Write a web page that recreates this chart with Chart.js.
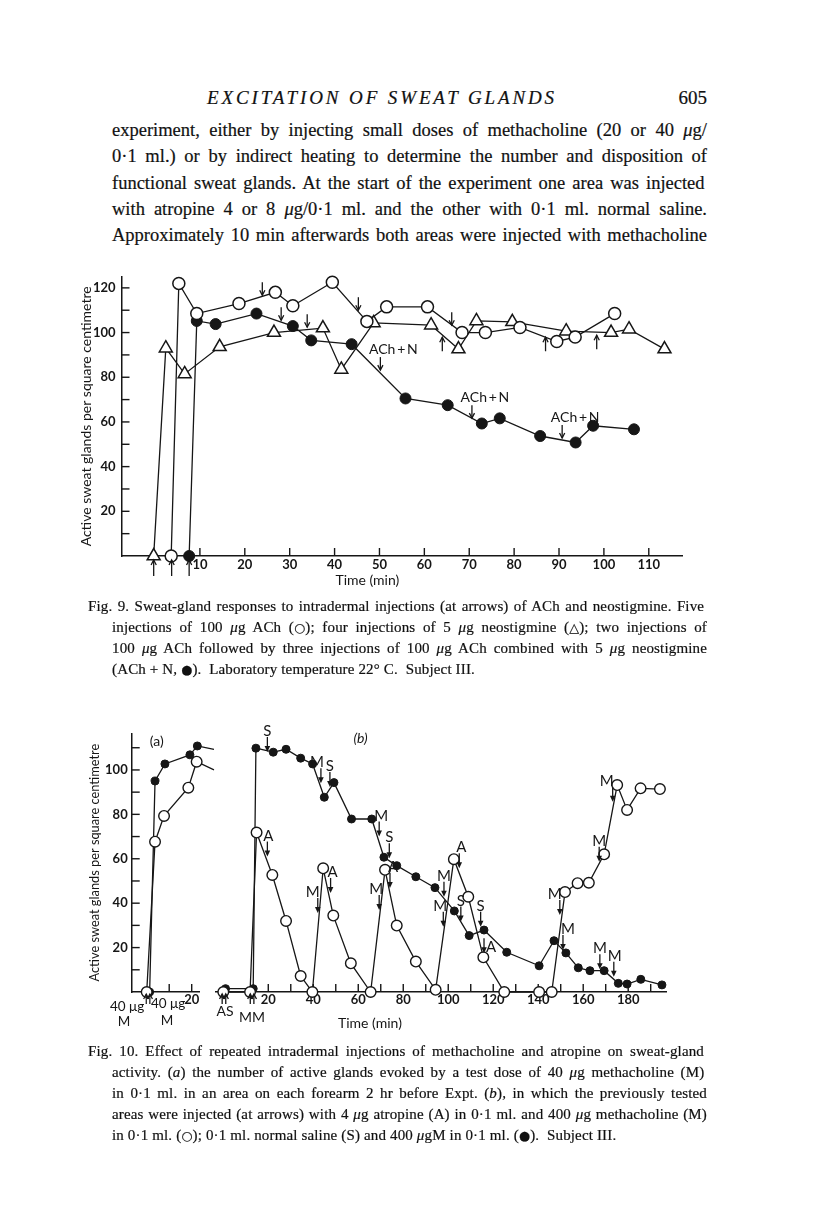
<!DOCTYPE html>
<html><head><meta charset="utf-8">
<script src="https://cdn.jsdelivr.net/npm/chart.js@4.4.1/dist/chart.umd.min.js"></script>
<style>
html,body{margin:0;padding:0;background:#fff;}
body{width:816px;height:1205px;position:relative;overflow:hidden;font-family:"Liberation Serif","DejaVu Serif",serif;color:#111;}
.ln{position:absolute;white-space:nowrap;-webkit-text-stroke:0.2px #111;}
.b{font-size:18.5px;line-height:21px;letter-spacing:0px;}
.c{font-size:15px;line-height:17px;letter-spacing:0.15px;}
.sym{font-family:"DejaVu Sans",sans-serif;font-size:0.85em;}
canvas{position:absolute;}
</style></head>
<body>
<div class="ln fit" data-w="350" data-mode="ls" style="left:207px;top:88px;font-size:19px;line-height:20px;font-style:italic;">EXCITATION OF SWEAT GLANDS</div>
<div class="ln" style="right:109px;top:88px;font-size:19px;line-height:20px;">605</div>

<div class="ln b fit" data-w="595" style="left:112px;top:120px;">experiment, either by injecting small doses of methacholine (20 or 40 <i>μ</i>g/</div>
<div class="ln b fit" data-w="595" style="left:112px;top:146px;">0·1 ml.) or by indirect heating to determine the number and disposition of</div>
<div class="ln b fit" data-w="595" style="left:112px;top:172.5px;">functional sweat glands.  At the start of the experiment one area was injected</div>
<div class="ln b fit" data-w="595" style="left:112px;top:199px;">with atropine 4 or 8 <i>μ</i>g/0·1 ml. and the other with 0·1 ml. normal saline.</div>
<div class="ln b fit" data-w="595" style="left:112px;top:225px;">Approximately 10 min afterwards both areas were injected with methacholine</div>

<canvas id="fig9" width="816" height="340" style="left:0;top:260px;"></canvas>

<div class="ln c fit" data-w="619" style="left:88px;top:598px;">Fig. 9.  Sweat-gland responses to intradermal injections (at arrows) of ACh and neostigmine.  Five</div>
<div class="ln c fit" data-w="595" style="left:112px;top:619px;">injections of 100 <i>μ</i>g ACh (<span class="sym">○</span>); four injections of 5 <i>μ</i>g neostigmine (<span class="sym">△</span>); two injections of</div>
<div class="ln c fit" data-w="595" style="left:112px;top:640px;">100 <i>μ</i>g ACh followed by three injections of 100 <i>μ</i>g ACh combined with 5 <i>μ</i>g neostigmine</div>
<div class="ln c" style="left:112px;top:661px;">(ACh + N, <span class="sym">●</span>).&nbsp; Laboratory temperature 22° C.&nbsp; Subject III.</div>

<canvas id="fig10a" width="240" height="330" style="left:0;top:720px;"></canvas>
<canvas id="fig10b" width="616" height="330" style="left:200px;top:720px;"></canvas>

<div class="ln c fit" data-w="619" style="left:88px;top:1043px;">Fig. 10.  Effect of repeated intradermal injections of methacholine and atropine on sweat-gland</div>
<div class="ln c fit" data-w="595" style="left:112px;top:1064px;">activity.  (<i>a</i>) the number of active glands evoked by a test dose of 40 <i>μ</i>g methacholine (M)</div>
<div class="ln c fit" data-w="595" style="left:112px;top:1085px;">in 0·1 ml. in an area on each forearm 2 hr before Expt. (<i>b</i>), in which the previously tested</div>
<div class="ln c fit" data-w="595" style="left:112px;top:1106px;">areas were injected (at arrows) with 4 <i>μ</i>g atropine (A) in 0·1 ml. and 400 <i>μ</i>g methacholine (M)</div>
<div class="ln c" style="left:112px;top:1127px;">in 0·1 ml. (<span class="sym">○</span>); 0·1 ml. normal saline (S) and 400 <i>μ</i>gM in 0·1 ml. (<span class="sym">●</span>).&nbsp; Subject III.</div>

<script>
// ---------------- DATA ----------------
// Fig. 9
const fig9XTicks = [10, 20, 30, 40, 50, 60, 70, 80, 90, 100, 110];
const fig9XLabels = [10, 20, 30, 40, 50, 60, 70, 80, 90, 100, 110];
const fig9YTicks = [10, 20, 30, 40, 50, 60, 70, 80, 90, 100, 110, 120];
const fig9YLabels = [20, 40, 60, 80, 100, 120];

const fig9AChTime = [3.6, 5.3, 9.3, 18.7, 26.8, 30.7, 39.5, 47.2, 51.6, 60.7, 68.4, 73.6, 81.3, 89.5, 93.6, 102.4];
const fig9AChVal  = [0, 122, 108.5, 113, 118, 112, 122.5, 105, 111.5, 111.5, 100, 100, 102.3, 96, 98, 108.5];

const fig9NeoTime = [-0.3, 2.4, 6.6, 14.4, 26.5, 37.4, 41.5, 48.7, 61.5, 67.6, 71.6, 79.6, 91.6, 101.6, 105.6, 113.5];
const fig9NeoVal  = [0, 93, 81.5, 93.6, 100, 102, 83.5, 104.3, 103.3, 92.6, 105.2, 104.8, 100.6, 100, 101.5, 92.6];

const fig9AChNTime = [7.6, 9.3, 13.5, 22.6, 30.7, 34.8, 43.8, 55.8, 65.2, 72.8, 76.8, 85.8, 93.7, 97.6, 106.7];
const fig9AChNVal  = [0, 105.2, 103.8, 108.5, 102.9, 96.5, 94.8, 70.5, 67.5, 59.3, 61.6, 53.7, 50.8, 58.3, 56.7];

const fig9InjectionTimes = [-0.3, 3.7, 7.6];
const fig9DownArrowTime = [23.9, 28.1, 33.9, 45.3, 66.1];
const fig9DownArrowVal  = [116.7, 105.5, 102.4, 110, 103.3];
const fig9UpArrowTime = [64, 87, 98.4];
const fig9UpArrowVal  = [97.9, 97.9, 98.8];
const fig9AChNArrowTime = [50.2, 70.6, 90.7];
const fig9AChNArrowVal  = [83.2, 61.7, 52.8];

// Fig. 10
const fig10YTicks = [10, 20, 30, 40, 50, 60, 70, 80, 90, 100, 110];
const fig10YLabels = [20, 40, 60, 80, 100];
const fig10aXTicks = [10, 20];
const fig10aXLabels = [20];
const fig10bXTicks = [20, 30, 40, 50, 60, 70, 80, 90, 100, 110, 120, 130, 140, 150, 160, 170, 180, 190];
const fig10bXLabels = [20, 40, 60, 80, 100, 120, 140, 160, 180];

const fig10aOpenTime = [0, 3.7, 7.7, 18.5, 22.2, 29.9];
const fig10aOpenVal  = [0, 67.7, 79.3, 92, 103.7, 100];
const fig10aFilledTime = [1.3, 3.7, 8.1, 19.2, 22.5, 29.9];
const fig10aFilledVal  = [0, 95, 102.7, 106.8, 110.8, 109.3];

const fig10bOpenTime = [0, 11.9, 14.8, 21.8, 27.9, 34.4, 39.6, 44.4, 48.9, 56.7, 65.5, 71.9, 77.1, 85.6, 94.4, 102.5, 108.9, 115.6, 124.9, 140.4, 146, 151.9, 157.5, 162.5, 169.3, 175.1, 179.5, 185.5, 194.1];
const fig10bOpenVal  = [0, 0, 71.8, 52.7, 32, 7.2, 0, 55.7, 34.4, 12.9, 0, 55, 29.9, 13.7, 1, 59.8, 42.9, 15.6, 0, 0, 0, 45, 49, 49.2, 62, 93.2, 82, 91.7, 91.4];
const fig10bFilledTime = [1, 13.3, 14.5, 22.2, 27.9, 34.4, 39.7, 44.9, 49.2, 57, 66, 71.4, 77.1, 85.6, 94.1, 102.7, 109.3, 115.9, 126, 140.4, 147, 152.3, 157.8, 163, 169.3, 175.6, 179.5, 185.6, 195];
const fig10bFilledVal  = [1.5, 1.5, 109.8, 108, 109.3, 105.3, 102.7, 87.7, 94.3, 77.9, 77.9, 60.7, 56.9, 51.9, 47, 36.5, 25.4, 27.9, 17.9, 11.8, 23.1, 17.6, 10.9, 9.6, 9.6, 3.9, 3.6, 5.7, 3.2];

const fig10bMarkText = ['S','M','S','A','M','A','M','S','M','A','M','A','M','S','S','A','M','M','M','M','M','M'];
const fig10bMarkTime = [19.6, 43.4, 47.4, 19.6, 42, 47.7, 69.3, 73.8, 69.3, 74.1, 98.1, 104.9, 97.8, 105.6, 114.4, 115.9, 149.6, 151, 167.1, 173.1, 167.4, 173.6];
const fig10bMarkVal  = [108.1, 94, 92.3, 61, 35.6, 44.6, 70, 60.2, 36.9, 46.8, 42.9, 55.7, 29.4, 31.7, 29.4, 17.4, 34.7, 18.9, 58.7, 85.7, 10.2, 6.9];
const fig10aInjectionTimes = [0.6];
const fig10bInjectionTimes = [0.3, 12.8];

// ---------------- STYLE / LAYOUT ----------------
const INK = '#161616';
Chart.defaults.font.family = 'Lato, "DejaVu Sans", sans-serif';
Chart.defaults.color = INK;
const markDx = [0,-4,0,1,-5,2,2,0,-3,3,0,2,-3,0,0,0,-5,5,0,-6,0,1];

function pts(t, v) { return t.map((x, i) => ({x: x, y: v[i]})); }
function ds(t, v, style, r, fill, bw) {
  return {data: pts(t, v), showLine: true, borderColor: INK, borderWidth: 1.3, tension: 0,
    pointStyle: style, pointRadius: r, pointHoverRadius: r, pointBackgroundColor: fill,
    pointBorderColor: INK, pointBorderWidth: bw, clip: false};
}
function line(ctx, x1, y1, x2, y2) { ctx.beginPath(); ctx.moveTo(x1, y1); ctx.lineTo(x2, y2); ctx.stroke(); }
function arrowOpen(ctx, x, tip, len, dir) {
  const s = dir === 'up' ? 1 : -1;
  line(ctx, x, tip, x, tip + s * len);
  ctx.beginPath(); ctx.moveTo(x - 2.6, tip + s * 5); ctx.lineTo(x, tip); ctx.lineTo(x + 2.6, tip + s * 5); ctx.stroke();
}
function arrowFilled(ctx, x, tip, len) {
  line(ctx, x, tip - len, x, tip - 4);
  ctx.beginPath(); ctx.moveTo(x, tip); ctx.lineTo(x - 2.8, tip - 6); ctx.lineTo(x + 2.8, tip - 6); ctx.closePath(); ctx.fill();
}
function axisScale(min, max, ticks, labels, size, pad, fitProp, fitVal, display) {
  return {type: 'linear', min: min, max: max, display: display,
    grid: {display: false, drawTicks: false},
    border: {display: true, color: INK, width: 1.5},
    ticks: {autoSkip: false, maxRotation: 0, padding: pad, color: INK,
      font: {size: size, weight: 'bold'},
      callback: v => labels.includes(v) ? String(v) : ''},
    afterBuildTicks: s => { s.ticks = ticks.map(v => ({value: v})); },
    afterFit: s => { s[fitProp] = fitVal; }};
}
function tickPlugin(xTicks, yTicks, len) {
  return {id: 'inwardTicks', beforeDatasetsDraw(chart) {
    const ctx = chart.ctx, xs = chart.scales.x, ys = chart.scales.y, a = chart.chartArea;
    ctx.save(); ctx.strokeStyle = INK; ctx.lineWidth = 1.4;
    xTicks.forEach(v => { const x = xs.getPixelForValue(v); line(ctx, x, a.bottom, x, a.bottom - len); });
    yTicks.forEach(v => { const y = ys.getPixelForValue(v); line(ctx, a.left, y, a.left + len, y); });
    ctx.restore();
  }};
}
const baseOpts = {responsive: false, animation: false, devicePixelRatio: 1, events: [],
  plugins: {legend: {display: false}, tooltip: {enabled: false}}};

// ---------------- FIG 9 ----------------
new Chart(document.getElementById('fig9'), {
  type: 'scatter',
  data: {datasets: [
    ds(fig9AChTime, fig9AChVal, 'circle', 6, '#fff', 1.5),
    ds(fig9AChNTime, fig9AChNVal, 'circle', 5.5, INK, 1),
    ds(fig9NeoTime, fig9NeoVal, 'triangle', 7.5, '#fff', 1.5)
  ]},
  options: Object.assign({}, baseOpts, {
    layout: {padding: {top: 16.7, right: 134, bottom: 0, left: 0}},
    scales: {
      x: axisScale(-7.47, 117.4, fig9XTicks, fig9XLabels, 13, 1, 'height', 44, true),
      y: Object.assign(axisScale(0, 125, fig9YTicks, fig9YLabels, 13, 6, 'width', 121.5, true),
        {title: {display: true, text: 'Active sweat glands per square centimetre', color: INK,
          font: {size: 14}, padding: {top: 78, bottom: 0}}})
    }
  }),
  plugins: [tickPlugin(fig9XTicks, fig9YTicks, 8), {id: 'ann9', afterDatasetsDraw(chart) {
    const ctx = chart.ctx, xs = chart.scales.x, ys = chart.scales.y, a = chart.chartArea;
    const X = v => xs.getPixelForValue(v), Y = v => ys.getPixelForValue(v);
    ctx.save(); ctx.strokeStyle = INK; ctx.fillStyle = INK; ctx.lineWidth = 1.3;
    fig9InjectionTimes.forEach(t => arrowOpen(ctx, X(t), a.bottom + 4, 16, 'up'));
    fig9DownArrowTime.forEach((t, i) => arrowOpen(ctx, X(t), Y(fig9DownArrowVal[i]), 13, 'down'));
    fig9UpArrowTime.forEach((t, i) => arrowOpen(ctx, X(t), Y(fig9UpArrowVal[i]), 14, 'up'));
    ctx.font = '14px Lato'; ctx.textAlign = 'center'; ctx.textBaseline = 'alphabetic';
    fig9AChNArrowTime.forEach((t, i) => {
      const tip = Y(fig9AChNArrowVal[i]);
      arrowOpen(ctx, X(t), tip, 13, 'down');
      ctx.fillText('ACh\u2009+\u2009N', X(t) + 13, tip - 16);
    });
    ctx.font = '14px Lato'; ctx.textBaseline = 'middle';
    ctx.fillText('Time (min)', X(47.3), a.bottom + 24);
    ctx.restore();
  }}]
});

// ---------------- FIG 10 (a) ----------------
function belowLabel(ctx, txt, x, y, size) { ctx.font = size + 'px Lato'; ctx.fillText(txt, x, y); }
function doubleArrow(ctx, x, tip) { arrowOpen(ctx, x - 1.8, tip, 10, 'up'); arrowOpen(ctx, x + 1.8, tip, 10, 'up'); }

new Chart(document.getElementById('fig10a'), {
  type: 'scatter',
  data: {datasets: [
    ds(fig10aOpenTime, fig10aOpenVal, 'circle', 5.3, '#fff', 1.4),
    ds(fig10aFilledTime, fig10aFilledVal, 'circle', 4, INK, 1)
  ]},
  options: Object.assign({}, baseOpts, {
    layout: {padding: {top: 13.3, right: 41, bottom: 0, left: 0}},
    scales: {
      x: axisScale(-6.67, 23.24, fig10aXTicks, fig10aXLabels, 13, 0, 'height', 58, true),
      y: Object.assign(axisScale(0, 116.5, fig10YTicks, fig10YLabels, 13, 4, 'width', 131.7, true),
        {title: {display: true, text: 'Active sweat glands per square centimetre', color: INK,
          font: {size: 12.8}, padding: {top: 87, bottom: 0}}})
    }
  }),
  plugins: [tickPlugin(fig10aXTicks, fig10YTicks, 8), {id: 'ann10a', afterDatasetsDraw(chart) {
    const ctx = chart.ctx, xs = chart.scales.x, ys = chart.scales.y, a = chart.chartArea;
    const X = v => xs.getPixelForValue(v), Y = v => ys.getPixelForValue(v);
    ctx.save(); ctx.strokeStyle = INK; ctx.fillStyle = INK; ctx.lineWidth = 1.2;
    fig10aInjectionTimes.forEach(t => doubleArrow(ctx, X(t), a.bottom + 2));
    ctx.textAlign = 'center'; ctx.textBaseline = 'middle';
    belowLabel(ctx, '(a)', X(4.5), Y(113), 14);
    const x0 = X(fig10aInjectionTimes[0]);
    belowLabel(ctx, '40 μg', x0 - 21, a.bottom + 15, 13.5);
    belowLabel(ctx, 'M', x0 - 24, a.bottom + 30, 13.5);
    belowLabel(ctx, '40 μg', x0 + 20, a.bottom + 12, 13.5);
    belowLabel(ctx, 'M', x0 + 19, a.bottom + 29, 13.5);
    ctx.restore();
  }}]
});

// ---------------- FIG 10 (b) ----------------
new Chart(document.getElementById('fig10b'), {
  type: 'scatter',
  data: {datasets: [
    ds(fig10bOpenTime, fig10bOpenVal, 'circle', 5.3, '#fff', 1.4),
    ds(fig10bFilledTime, fig10bFilledVal, 'circle', 4, INK, 1)
  ]},
  options: Object.assign({}, baseOpts, {
    layout: {padding: {top: 13.3, right: 150, bottom: 0, left: 16}},
    scales: {
      x: axisScale(-3.24, 196.8, fig10bXTicks, fig10bXLabels, 13, 0, 'height', 58, true),
      y: axisScale(0, 116.5, [], [], 13, 0, 'width', 0, false)
    }
  }),
  plugins: [tickPlugin(fig10bXTicks, [], 8), {id: 'ann10b', afterDatasetsDraw(chart) {
    const ctx = chart.ctx, xs = chart.scales.x, ys = chart.scales.y, a = chart.chartArea;
    const X = v => xs.getPixelForValue(v), Y = v => ys.getPixelForValue(v);
    ctx.save(); ctx.strokeStyle = INK; ctx.fillStyle = INK; ctx.lineWidth = 1.3;
    ctx.textAlign = 'center'; ctx.textBaseline = 'alphabetic';
    fig10bMarkTime.forEach((t, i) => {
      const x = X(t), tip = Y(fig10bMarkVal[i]);
      arrowFilled(ctx, x, tip, 15);
      ctx.font = '15px Lato';
      if (i === 15) {
        ctx.textAlign = 'left'; ctx.fillText(fig10bMarkText[i], x + 2, tip - 1); ctx.textAlign = 'center';
      } else {
        ctx.fillText(fig10bMarkText[i], x + markDx[i], tip - 16);
      }
    });
    fig10bInjectionTimes.forEach(t => doubleArrow(ctx, X(t), a.bottom + 2));
    ctx.textBaseline = 'middle';
    ctx.font = '14px Lato';
    ctx.fillText('AS', X(fig10bInjectionTimes[0]) + 1, a.bottom + 19);
    ctx.fillText('MM', X(fig10bInjectionTimes[1]), a.bottom + 25);
    ctx.font = 'italic 14px Lato';
    ctx.fillText('(b)', X(61), Y(114));
    ctx.font = '14px Lato';
    ctx.fillText('Time (min)', X(65.2), a.bottom + 31);
    ctx.restore();
  }}]
});

// ---------------- text fitting ----------------
document.querySelectorAll('.fit').forEach(el => {
  const target = parseFloat(el.dataset.w);
  const nat = el.getBoundingClientRect().width;
  const txt = el.textContent;
  if (el.dataset.mode === 'ls') {
    el.style.letterSpacing = ((target - nat) / txt.length) + 'px';
  } else {
    const n = (txt.match(/ /g) || []).length;
    if (n) el.style.wordSpacing = ((target - nat) / n) + 'px';
  }
});
</script>
</body></html>
